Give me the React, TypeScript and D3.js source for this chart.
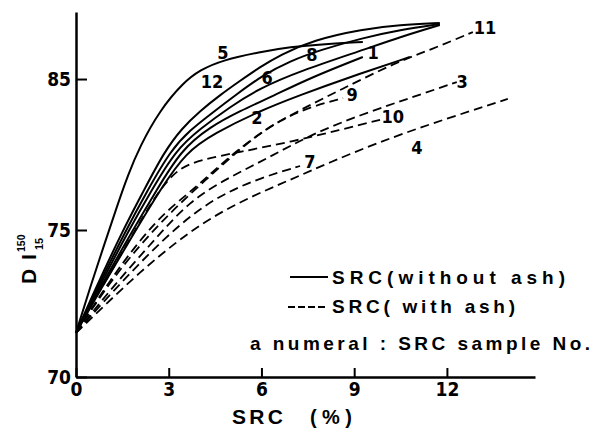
import React, { useEffect, useRef } from 'react';
import * as d3 from 'd3';

// SRC content (%) vs DI 150/15, one pair of arrays per sample
// solid = SRC without ash
const s5x = [0, 0.45, 0.91, 1.33, 1.68, 2.07, 2.72, 3.46, 4.01, 4.75, 5.95, 6.92, 8.05, 9.28];
const s5y = [71.5, 73.03, 74.49, 76.59, 78.64, 80.56, 82.95, 84.74, 85.6, 86.26, 86.79, 87.12, 87.32, 87.45];
const s12x = [0, 0.61, 1.52, 2.17, 2.85, 3.43, 4.01, 4.66, 5.3, 5.95, 6.6, 7.67, 9.28, 10.48, 11.77];
const s12y = [71.5, 72.96, 75, 77.52, 80.17, 81.75, 82.88, 83.94, 84.87, 85.79, 86.59, 87.58, 88.31, 88.58, 88.71];
const s8x = [0, 0.65, 1.62, 2.3, 3.07, 3.69, 4.4, 5.21, 6.05, 6.92, 7.89, 9.28, 10.48, 11.77];
const s8y = [71.5, 72.96, 75, 77.58, 80.3, 81.62, 82.75, 84.01, 85.26, 86.19, 86.92, 87.72, 88.25, 88.64];
const s6x = [0, 0.7, 1.71, 2.43, 3.23, 4.01, 4.98, 5.95, 7.25, 9.28, 10.48, 11.77];
const s6y = [71.5, 72.96, 75, 77.58, 80.3, 81.69, 83.15, 84.4, 85.53, 86.92, 87.78, 88.58];
const s1x = [0, 0.74, 1.84, 2.59, 3.4, 4.33, 5.3, 6.37, 7.57, 9.28];
const s1y = [71.5, 72.96, 75, 77.58, 80.3, 81.82, 82.88, 83.87, 85.07, 86.46];
const s2x = [0, 0.78, 1.94, 2.72, 3.56, 4.5, 5.85, 7.25, 8.86, 10.8];
const s2y = [71.5, 72.96, 75, 77.65, 80.17, 81.42, 82.81, 83.94, 85.13, 86.46];

// dashed = SRC with ash
const s10x = [0, 0.78, 1.58, 2.39, 2.88, 3.36, 4.01, 5.3, 6.92, 8.54, 9.93];
const s10y = [71.5, 72.96, 74.39, 76.66, 78.11, 79.11, 79.64, 80.17, 80.83, 81.62, 82.35];
const s9x = [0, 1.1, 2.07, 2.88, 3.85, 4.66, 5.63, 6.6, 7.57, 8.64];
const s9y = [71.5, 73.3, 74.66, 76.19, 77.78, 79.3, 80.96, 82.28, 83.15, 83.74];
const s11x = [0, 1.1, 2.07, 3.04, 4.01, 4.98, 6.05, 7.25, 8.54, 10.38, 11.45, 12.84];
const s11y = [71.5, 73.23, 74.49, 76.13, 77.98, 79.77, 81.62, 82.95, 84.27, 86.13, 86.92, 88.11];
const s3x = [0, 1.1, 2.39, 3.69, 4.98, 6.27, 7.57, 9.19, 10.8, 12.32];
const s3y = [71.5, 72.96, 74.49, 76.99, 78.51, 79.83, 81.29, 82.62, 83.74, 84.8];
const s7x = [0, 0.94, 1.91, 2.88, 3.85, 4.82, 5.95, 7.25];
const s7y = [71.5, 72.62, 73.71, 74.73, 76.19, 77.45, 78.44, 79.24];
const s4x = [0, 0.94, 2.07, 3.2, 4.33, 5.63, 6.92, 8.22, 9.83, 11.45, 13.97];
const s4y = [71.5, 72.45, 73.57, 74.56, 75.79, 77.19, 78.31, 79.5, 80.83, 82.02, 83.68];

// sample numbers written beside the curves
const labelNames = ['5', '12', '6', '8', '1', '2', '9', '10', '3', '4', '7', '11'];
const labelX = [4.75, 4.4, 6.18, 7.63, 9.61, 5.85, 8.93, 10.25, 12.49, 11.03, 7.57, 13.23];
const labelY = [86.72, 84.8, 85.07, 86.59, 86.72, 82.42, 83.94, 82.48, 84.8, 80.43, 79.5, 88.38];

const xTicks = [0, 3, 6, 9, 12];
const yTicks = [70, 75, 85];

const series = [
  { name: '5', ash: false, xs: s5x, ys: s5y },
  { name: '12', ash: false, xs: s12x, ys: s12y },
  { name: '8', ash: false, xs: s8x, ys: s8y },
  { name: '6', ash: false, xs: s6x, ys: s6y },
  { name: '1', ash: false, xs: s1x, ys: s1y },
  { name: '2', ash: false, xs: s2x, ys: s2y },
  { name: '10', ash: true, xs: s10x, ys: s10y },
  { name: '9', ash: true, xs: s9x, ys: s9y },
  { name: '11', ash: true, xs: s11x, ys: s11y },
  { name: '3', ash: true, xs: s3x, ys: s3y },
  { name: '7', ash: true, xs: s7x, ys: s7y },
  { name: '4', ash: true, xs: s4x, ys: s4y },
];

const narrow = "'Liberation Sans Narrow', 'DejaVu Sans Condensed', sans-serif";
const sans = "'Liberation Sans', Arial, sans-serif";

export default function App() {
  const xAxisRef = useRef<SVGGElement>(null);
  const yAxisRef = useRef<SVGGElement>(null);

  const x = d3.scaleLinear().domain([0, 14.85]).range([76, 535]);
  // y axis is broken: 70 sits at the origin, 75..85 spaced closer
  const y = d3.scaleLinear().domain([70, 75, 89.44]).range([377, 230, 12]);

  const line = d3
    .line<[number, number]>()
    .x((d) => x(d[0]))
    .y((d) => y(d[1]))
    .curve(d3.curveBasis);

  useEffect(() => {
    const gx = d3.select(xAxisRef.current!);
    gx.call(d3.axisBottom(x).tickValues(xTicks).tickSize(-9).tickSizeOuter(0).tickPadding(6));
    gx.attr('font-size', 19).attr('font-family', narrow).attr('font-weight', 'bold');
    gx.select('.domain').attr('stroke-width', 2.5);
    gx.selectAll('.tick line').attr('stroke-width', 2);

    const gy = d3.select(yAxisRef.current!);
    gy.call(d3.axisLeft(y).tickValues(yTicks).tickSize(-11).tickSizeOuter(0).tickPadding(5));
    gy.attr('font-size', 19).attr('font-family', narrow).attr('font-weight', 'bold');
    gy.select('.domain').attr('stroke-width', 2.5);
    gy.selectAll('.tick line').attr('stroke-width', 2);
  }, []);

  return (
    <svg width={604} height={432} style={{ position: 'absolute', left: 0, top: 0, background: '#fff' }}>
      {series.map((s) => (
        <path
          key={s.name}
          d={line(s.xs.map((v, i) => [v, s.ys[i]] as [number, number])) || ''}
          fill="none"
          stroke="#000"
          strokeWidth={s.ash ? 1.8 : 2}
          strokeDasharray={s.ash ? '9,5' : undefined}
        />
      ))}

      {labelNames.map((n, i) => (
        <text
          key={'l' + n}
          x={x(labelX[i])}
          y={y(labelY[i])}
          dy="0.35em"
          textAnchor="middle"
          fontFamily={narrow}
          fontWeight="bold"
          fontSize={18}
        >
          {n}
        </text>
      ))}

      <g ref={xAxisRef} transform="translate(0,377)" />
      <g ref={yAxisRef} transform="translate(76,0)" />

      <g fontFamily={sans} fontWeight="bold">
        <text x={232} y={424} fontSize={21} textLength={51} lengthAdjust="spacing">SRC</text>
        <text x={310} y={424} fontSize={20} textLength={42} lengthAdjust="spacing">(%)</text>

        <g transform="translate(36,285) rotate(-90)">
          <text x={1} y={0} fontSize={21}>D</text>
          <text x={25} y={0} fontSize={21}>I</text>
          <text x={33} y={-11} fontSize={10.5}>150</text>
          <text x={35} y={7} fontSize={11}>15</text>
        </g>

        <line x1={290} x2={328} y1={277} y2={277} stroke="#000" strokeWidth={2} />
        <text x={332} y={284} fontSize={19} textLength={233} lengthAdjust="spacing">SRC(without ash)</text>
        <line x1={288} x2={328} y1={307} y2={307} stroke="#000" strokeWidth={1.8} strokeDasharray="7,3" />
        <text x={332} y={313} fontSize={19} textLength={183} lengthAdjust="spacing">SRC( with ash)</text>
        <text x={250} y={350} fontSize={19} textLength={340} lengthAdjust="spacing">a numeral : SRC sample No.</text>
      </g>
    </svg>
  );
}
